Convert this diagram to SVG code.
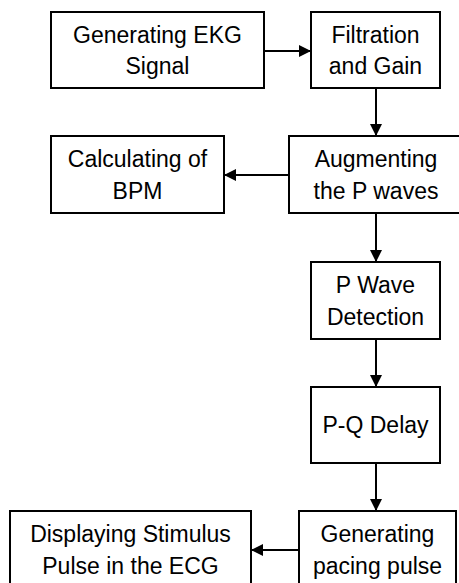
<svg xmlns="http://www.w3.org/2000/svg" width="459" height="583" viewBox="0 0 459 583">
<style>
.box{fill:#fff;stroke:#000;stroke-width:2}
.t{font-family:"Liberation Sans",Arial,sans-serif;font-size:23px;fill:#000;text-anchor:middle}
.c{stroke:#000;stroke-width:2;fill:none;marker-end:url(#ah)}
</style>
<defs>
<marker id="ah" viewBox="0 0 12 12" refX="12" refY="6" markerWidth="12" markerHeight="12" markerUnits="userSpaceOnUse" orient="auto">
<path d="M0,0 L12,6 L0,12 Z" fill="#000"/>
</marker>
</defs>
<rect width="459" height="583" fill="#fff"/>
<g id="connectors">
<line class="c" x1="264" y1="51" x2="311" y2="51"/>
<line class="c" x1="376" y1="88" x2="376" y2="136"/>
<line class="c" x1="289" y1="175" x2="224" y2="175"/>
<line class="c" x1="376" y1="213" x2="376" y2="262"/>
<line class="c" x1="376" y1="339" x2="376" y2="387"/>
<line class="c" x1="376" y1="463" x2="376" y2="511"/>
<line class="c" x1="299" y1="550" x2="251" y2="550"/>
</g>
<g id="n1"><rect class="box" x="51" y="12" width="213" height="76"/>
<text class="t" x="157.5" y="43">Generating EKG</text><text class="t" x="157.5" y="74">Signal</text></g>
<g id="n2"><rect class="box" x="311" y="12" width="129" height="76"/>
<text class="t" x="375.5" y="43">Filtration</text><text class="t" x="375.5" y="74">and Gain</text></g>
<g id="n3"><rect class="box" x="51" y="136" width="173" height="77"/>
<text class="t" x="137.5" y="167">Calculating of</text><text class="t" x="137.5" y="199">BPM</text></g>
<g id="n4"><rect class="box" x="289" y="136" width="175" height="77"/>
<text class="t" x="376" y="167">Augmenting</text><text class="t" x="376" y="199">the P waves</text></g>
<g id="n5"><rect class="box" x="311" y="262" width="129" height="77"/>
<text class="t" x="375.5" y="293">P Wave</text><text class="t" x="375.5" y="325">Detection</text></g>
<g id="n6"><rect class="box" x="311" y="387" width="129" height="76"/>
<text class="t" x="375.5" y="433">P-Q Delay</text></g>
<g id="n7"><rect class="box" x="299" y="511" width="157" height="90"/>
<text class="t" x="377.5" y="542">Generating</text><text class="t" x="377.5" y="574">pacing pulse</text></g>
<g id="n8"><rect class="box" x="10" y="511" width="241" height="90"/>
<text class="t" x="130.5" y="542">Displaying Stimulus</text><text class="t" x="130.5" y="574">Pulse in the ECG</text></g>
</svg>
